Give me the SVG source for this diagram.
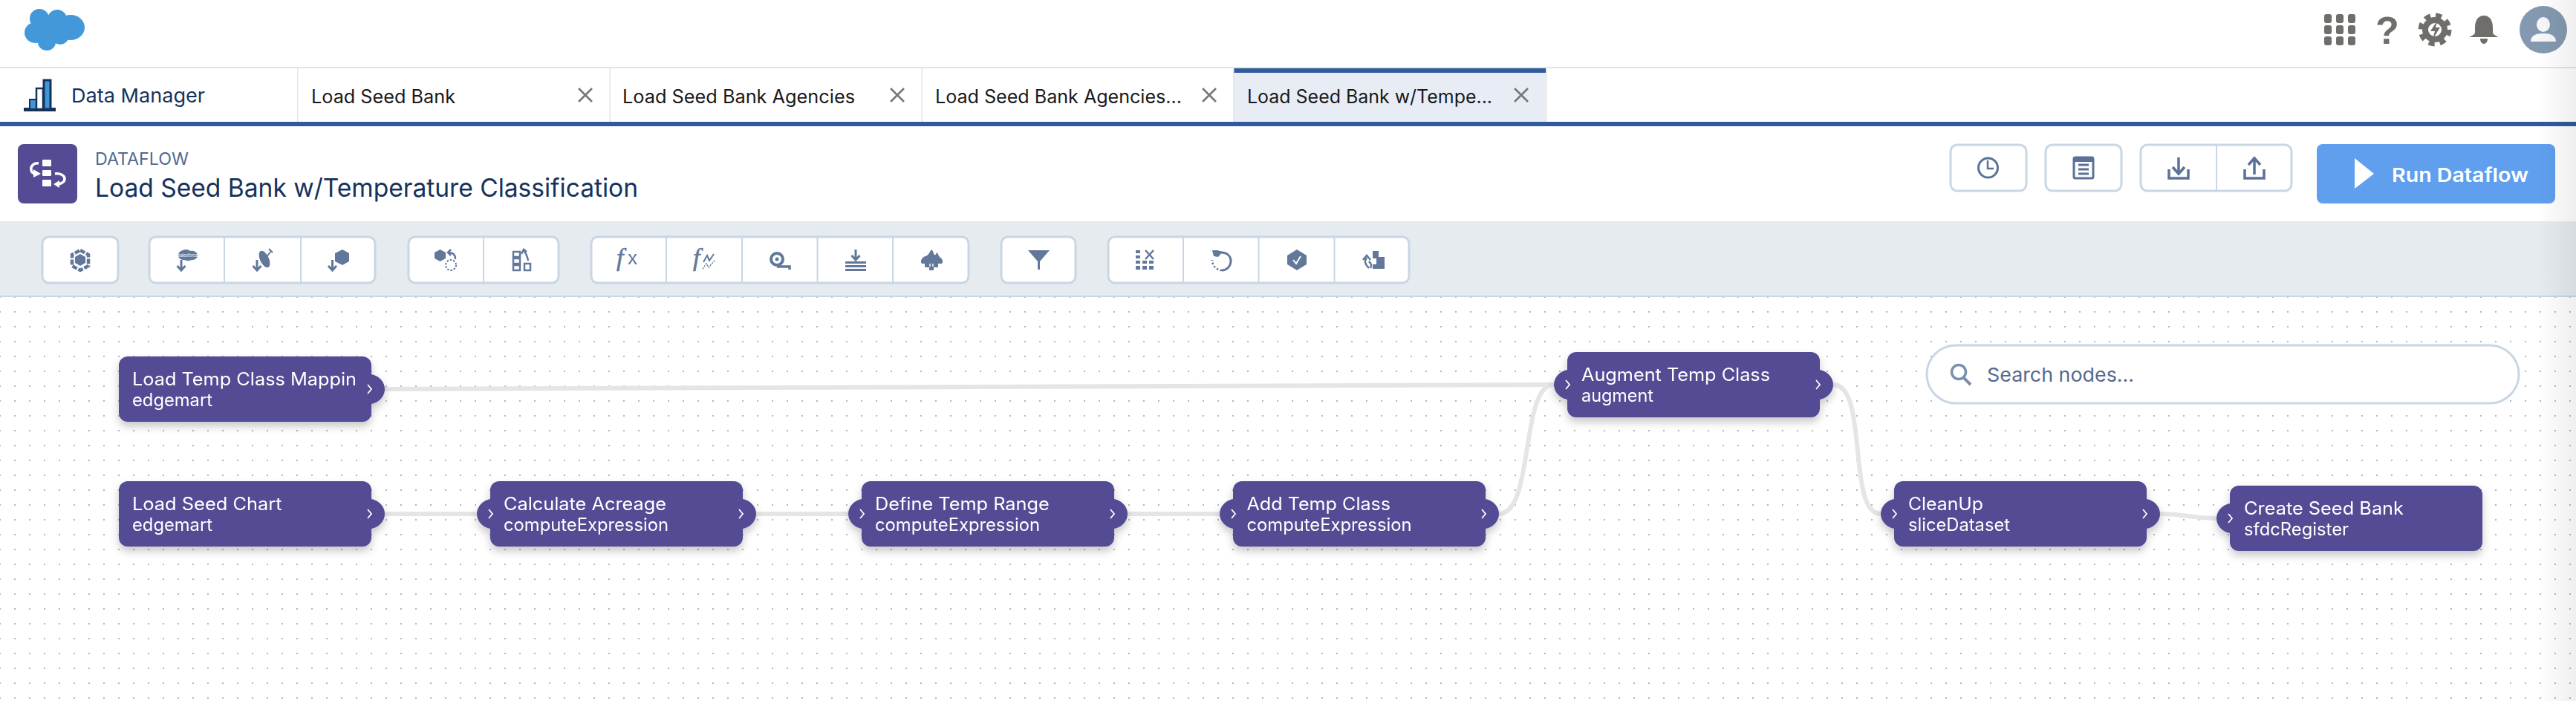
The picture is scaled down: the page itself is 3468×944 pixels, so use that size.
<svg xmlns="http://www.w3.org/2000/svg" width="3468" height="944" viewBox="0 0 3468 944">
<style>
text{font-family:"Inter","Liberation Sans",sans-serif}
.n1,.n2{fill:#fff}
.n1{font-size:24px}
.n2{font-size:24px}
.body{fill:#534b93}
.chev{fill:none;stroke:#fff;stroke-width:1.800}
.conn{fill:none;stroke:#e5e5e5;stroke-width:6}
.tab{font-size:25px;fill:#1a1a1a}
.x{stroke:#777;stroke-width:2.6;fill:none}
.btn{fill:#fff;stroke:#c9d6e4;stroke-width:3}
.div{stroke:#c9d6e4;stroke-width:2}
.ic{fill:#62789a;stroke:none}
.il{fill:none;stroke:#62789a;stroke-width:3}
.id{fill:none;stroke:#62789a;stroke-width:2;stroke-dasharray:2.5 2}
.top{fill:#706e6b}
</style>
<defs>
<pattern id="dots" x="-1" y="-1" width="20" height="20" patternUnits="userSpaceOnUse"><rect x="0" y="0" width="2" height="2" fill="#b5b5b5"/></pattern>
<linearGradient id="edge" x1="0" x2="1" y1="0" y2="0"><stop offset="0" stop-color="#000" stop-opacity="0"/><stop offset="1" stop-color="#000" stop-opacity=".065"/></linearGradient>
<filter id="sh" x="-10%" y="-30%" width="120%" height="170%"><feDropShadow dx="0" dy="6" stdDeviation="6" flood-color="#000" flood-opacity=".22"/></filter>
<g id="shape-lr">
<path class="body" d="M0 24C-10 26 -18 34 -18 44C-18 54 -10 62 0 64Z"/>
<rect class="body" x="0" y="0" width="340" height="88" rx="12"/>
<path class="body" d="M340 24C350 26 358 34 358 44C358 54 350 62 340 64Z"/>
<path class="chev" d="M-2 38L3 44L-2 50"/><path class="chev" d="M335 38L340 44L335 50"/>
</g>
<g id="shape-r">
<rect class="body" x="0" y="0" width="340" height="88" rx="12"/>
<path class="body" d="M340 24C350 26 358 34 358 44C358 54 350 62 340 64Z"/>
<path class="chev" d="M335 38L340 44L335 50"/>
</g>
<g id="shape-l">
<path class="body" d="M0 24C-10 26 -18 34 -18 44C-18 54 -10 62 0 64Z"/>
<rect class="body" x="0" y="0" width="340" height="88" rx="12"/>
<path class="chev" d="M-2 38L3 44L-2 50"/>
</g>
<path id="arrow" d="M0 0V13M-5.500 8L0 14L5.500 8" fill="none" stroke="#62789a" stroke-width="3"/>
<path id="closex" class="x" d="M-9 -9L9 9M9 -9L-9 9"/>
</defs>

<rect id="page" width="3468" height="944" fill="#fff"/>
<rect id="canvas-dots" x="0" y="400" width="3468" height="544" fill="url(#dots)"/>

<g id="global-header">
<g id="salesforce-logo" fill="#4398d9">
<circle cx="53" cy="25" r="13"/><circle cx="77" cy="26" r="13"/><ellipse cx="95" cy="37" rx="19" ry="17"/><ellipse cx="48" cy="44" rx="15" ry="14"/><ellipse cx="63" cy="57" rx="12" ry="11"/><ellipse cx="81" cy="50" rx="11" ry="10"/><circle cx="70" cy="40" r="18"/>
</g>
<g id="apps" class="top">
<rect x="3129" y="19" width="10" height="12" rx="3"/><rect x="3145" y="19" width="10" height="12" rx="3"/><rect x="3161" y="19" width="10" height="12" rx="3"/>
<rect x="3129" y="34" width="10" height="12" rx="3"/><rect x="3145" y="34" width="10" height="12" rx="3"/><rect x="3161" y="34" width="10" height="12" rx="3"/>
<rect x="3129" y="49" width="10" height="12" rx="3"/><rect x="3145" y="49" width="10" height="12" rx="3"/><rect x="3161" y="49" width="10" height="12" rx="3"/>
</g>
<text id="help" x="3214" y="59" text-anchor="middle" style="font-family:'Liberation Sans',sans-serif;font-size:52px;font-weight:700" class="top">?</text>
<g id="gear">
<circle cx="3278" cy="40" r="13" fill="none" stroke="#706e6b" stroke-width="8"/>
<circle cx="3278" cy="40" r="19" fill="none" stroke="#706e6b" stroke-width="7" stroke-dasharray="8 7"/>
<path class="top" d="M3281 28L3272 42H3278L3275 53L3285 37H3279Z"/>
</g>
<g id="bell" class="top">
<path d="M3344 21C3353 21 3356 29 3356 37V44C3356 47 3363 49 3363 50H3325C3325 49 3332 47 3332 44V37C3332 29 3335 21 3344 21Z"/>
<path d="M3339 52H3349C3349 56 3347 59 3344 59C3341 59 3339 56 3339 52Z"/>
</g>
<g id="avatar">
<circle cx="3424" cy="40" r="32" fill="#8499b0"/>
<ellipse cx="3424" cy="33" rx="9" ry="10" fill="#fff" opacity=".92"/>
<path d="M3407 56C3407 48 3414 45 3424 45C3434 45 3441 48 3441 56Z" fill="#fff" opacity=".92"/>
</g>
</g>

<g id="tab-bar">
<rect x="0" y="90" width="3468" height="2" fill="#e5e5e5"/>
<rect x="1660" y="92" width="422" height="72" fill="#e8edf5"/>
<rect x="1660" y="92" width="422" height="6" fill="#2f5a9b"/>
<rect x="400" y="92" width="1.500" height="72" fill="#e5e5e5"/><rect x="820.500" y="92" width="1.500" height="72" fill="#e5e5e5"/><rect x="1240.500" y="92" width="1.500" height="72" fill="#e5e5e5"/><rect x="1660" y="92" width="1.500" height="72" fill="#e5e5e5"/><rect x="2081" y="92" width="1.500" height="72" fill="#e5e5e5"/>
<rect x="0" y="164" width="3468" height="6" fill="#2f5a9b"/>
<g id="bar-icon">
<rect x="32" y="145" width="43" height="5" fill="#16325c"/>
<rect x="40" y="134" width="9" height="13" fill="#3f97d8" stroke="#16325c" stroke-width="2"/>
<rect x="49" y="119" width="9" height="28" fill="#fff" stroke="#16325c" stroke-width="2.500"/>
<rect x="59" y="108" width="9" height="39" fill="#3f97d8" stroke="#16325c" stroke-width="3"/>
</g>
<text x="96" y="138" textLength="180" lengthAdjust="spacingAndGlyphs" style="font-size:26px;fill:#16325c">Data Manager</text>
<text class="tab" x="419" y="139" textLength="194" lengthAdjust="spacingAndGlyphs">Load Seed Bank</text>
<use href="#closex" x="788" y="128"/>
<text class="tab" x="838" y="139" textLength="313" lengthAdjust="spacingAndGlyphs">Load Seed Bank Agencies</text>
<use href="#closex" x="1208" y="128"/>
<text class="tab" x="1259" y="139" textLength="332" lengthAdjust="spacingAndGlyphs">Load Seed Bank Agencies...</text>
<use href="#closex" x="1628" y="128"/>
<text class="tab" x="1679" y="139" textLength="330" lengthAdjust="spacingAndGlyphs">Load Seed Bank w/Tempe...</text>
<use href="#closex" x="2048" y="128"/>
</g>

<g id="page-header">
<rect x="24" y="194" width="80" height="80" rx="8" fill="#534b93"/>
<g id="dataflow-icon">
<rect x="57" y="215" width="12" height="9" rx="1" fill="#fff"/><rect x="57" y="229" width="12" height="8" rx="1" fill="#fff"/><rect x="57" y="242" width="12" height="9" rx="1" fill="#fff"/>
<path d="M52 220C45 219 41 224 42 229C42 231 44 233 47 234" fill="none" stroke="#fff" stroke-width="3.500"/>
<path d="M45 228L55 234L45 239Z" fill="#fff"/>
<path d="M74 234C81 233 87 236 87 241C87 245 83 247 79 248" fill="none" stroke="#fff" stroke-width="3.500"/>
<path d="M80 243L72 248L80 253Z" fill="#fff"/>
</g>
<text x="128" y="222" textLength="126" lengthAdjust="spacingAndGlyphs" style="font-size:23px;fill:#54698d">DATAFLOW</text>
<text x="128" y="265" textLength="731" lengthAdjust="spacingAndGlyphs" style="font-size:34px;fill:#16325c">Load Seed Bank w/Temperature Classification</text>
<rect class="btn" x="2626" y="195" width="102" height="62" rx="9"/>
<circle cx="2676.500" cy="226" r="13" fill="none" stroke="#5a7298" stroke-width="3"/><path d="M2676 216V227H2684" fill="none" stroke="#5a7298" stroke-width="2.500"/>
<rect class="btn" x="2754" y="195" width="102" height="62" rx="9"/>
<rect x="2792" y="212" width="26" height="28" rx="2" fill="none" stroke="#5a7298" stroke-width="3"/><rect x="2792" y="212" width="26" height="6" fill="#5a7298"/>
<path d="M2798 222H2812M2798 228H2812M2798 234H2812" stroke="#5a7298" stroke-width="3"/>
<rect class="btn" x="2882" y="195" width="203" height="62" rx="9"/><path class="div" d="M2984 195V257"/>
<path d="M2933 212V233M2925 225L2933 234L2941 225M2920 228V240H2946V228" fill="none" stroke="#5a7298" stroke-width="3.500"/>
<path d="M3035 235V214M3027 222L3035 213L3043 222M3022 228V240H3048V228" fill="none" stroke="#5a7298" stroke-width="3.500"/>
<rect x="3119" y="194" width="321" height="80" rx="8" fill="#5f9fee"/>
<path d="M3170 213L3196 234L3170 254Z" fill="#fff"/>
<text x="3220" y="245" textLength="184" lengthAdjust="spacingAndGlyphs" style="font-size:26px;font-weight:600;fill:#fff">Run Dataflow</text>
</g>

<g id="toolbar">
<rect x="0" y="298" width="3468" height="100" fill="#e6ebf0"/>
<rect x="0" y="398" width="3468" height="2" fill="#c9d6e4"/>
<rect class="btn" x="57" y="319" width="102" height="62" rx="9"/>
<rect class="btn" x="201" y="319" width="304" height="62" rx="9"/><path class="div" d="M302 319V381M405 319V381"/>
<rect class="btn" x="550" y="319" width="202" height="62" rx="9"/><path class="div" d="M651 319V381"/>
<rect class="btn" x="796" y="319" width="508" height="62" rx="9"/><path class="div" d="M897 319V381M999 319V381M1100.500 319V381M1202 319V381"/>
<rect class="btn" x="1348" y="319" width="100" height="62" rx="9"/>
<rect class="btn" x="1492" y="319" width="405" height="62" rx="9"/><path class="div" d="M1593 319V381M1694.500 319V381M1796.500 319V381"/>
<g id="tool-dataset">
<path class="ic" d="M108 342L115 346V354L108 358L101 354V346Z"/>
<path d="M108 337L119 343V358L108 364L97 358V343Z" fill="none" stroke="#62789a" stroke-width="4.500" stroke-dasharray="7 2"/>
</g>
<g id="tool-sfdc">
<path class="ic" d="M246 337C250 335 254 336 256 338C261 337 266 340 266 344C266 348 262 350 258 350C255 352 250 351 248 350C244 350 240 348 240 344C240 340 243 338 246 337Z"/>
<text x="253" y="345.500" text-anchor="middle" style="font-size:5.500px;fill:#fff">salesforce</text>
<use href="#arrow" x="244" y="350"/>
</g>
<g id="tool-dish">
<ellipse cx="356" cy="349" rx="6" ry="12" transform="rotate(-25 356 349)" class="ic"/>
<path d="M358 347L365 338M362 335L367 340" fill="none" stroke="#62789a" stroke-width="2"/>
<use href="#arrow" x="346" y="350"/>
</g>
<g id="tool-hex">
<path class="ic" d="M461 336L470 341V352L461 357L451 352V341Z"/>
<use href="#arrow" x="447.500" y="350"/>
</g>
<g id="tool-reset">
<path class="ic" d="M592.500 336L600 340V348L592.500 352L585 348V340Z"/>
<path d="M613 349C613 343 610 340 604 340M607 336L603 340L607 344" fill="none" stroke="#62789a" stroke-width="2.500"/>
<circle cx="607" cy="357" r="7" class="id"/>
</g>
<g id="tool-columns">
<rect x="691" y="339" width="9" height="7" fill="none" stroke="#62789a" stroke-width="2.500"/><rect x="691" y="348" width="9" height="7" fill="none" stroke="#62789a" stroke-width="2.500"/><rect x="691" y="357" width="9" height="7" fill="none" stroke="#62789a" stroke-width="2.500"/>
<rect x="706" y="355" width="8" height="9" fill="none" stroke="#62789a" stroke-width="2.500"/>
<path d="M711 351C710 345 708 341 705 337M702 342L705 336L709 339" fill="none" stroke="#62789a" stroke-width="2.500"/>
</g>
<g id="tool-fx">
<text x="830" y="358" style="font-family:'Liberation Serif',serif;font-style:italic;font-size:34px;fill:#62789a;stroke:#62789a;stroke-width:.6">f</text>
<text x="845" y="356" style="font-family:'Liberation Sans',sans-serif;font-size:26px;fill:#62789a">x</text>
</g>
<g id="tool-fw">
<text x="933" y="358" style="font-family:'Liberation Serif',serif;font-style:italic;font-size:34px;fill:#62789a;stroke:#62789a;stroke-width:.6">f</text>
<path d="M947 353L952 344L955 351L961 342" fill="none" stroke="#62789a" stroke-width="2"/>
<path d="M946 362L951 355L954 360L962 351" fill="none" stroke="#62789a" stroke-width="1.500" stroke-dasharray="2 1.500"/>
</g>
<g id="tool-seal">
<circle cx="1046" cy="349" r="8" fill="none" stroke="#62789a" stroke-width="4"/><circle cx="1046" cy="349" r="2.500" class="ic"/>
<path d="M1046 359H1063V363" fill="none" stroke="#62789a" stroke-width="3.500"/>
</g>
<g id="tool-append">
<use href="#arrow" x="1152" y="336"/>
<rect class="ic" x="1138" y="352" width="28" height="3"/><rect class="ic" x="1138" y="357" width="28" height="3"/><rect class="ic" x="1138" y="362" width="28" height="3"/>
</g>
<g id="tool-flatten">
<path class="ic" d="M1254 336C1257 338 1256 341 1258 343C1261 344 1260 340 1262 340C1263 343 1264 345 1266 347C1269 349 1270 352 1268 355L1263 355V360H1257V364H1251V360H1245V355L1241 355C1238 351 1242 346 1246 345C1250 344 1251 340 1254 336Z"/>
<path d="M1252 355V359M1256 355V359" stroke="#fff" stroke-width="1.500"/>
</g>
<g id="tool-filter">
<path class="ic" d="M1384 337H1413L1400 352V363H1397V352Z"/>
</g>
<g id="tool-slice">
<path class="ic" d="M1529 337H1535V341H1529ZM1529 344H1535V348H1529ZM1529 351H1535V355H1529ZM1529 358H1535V363H1529ZM1538 351H1544V355H1538ZM1538 358H1544V363H1538ZM1547 351H1553V355H1547ZM1547 358H1553V363H1547Z"/>
<path d="M1542 337L1553 349M1553 337L1542 349" stroke="#62789a" stroke-width="2.500"/>
</g>
<g id="tool-undo">
<path d="M1644 340C1652 340 1657 345 1657 351C1657 359 1651 364 1645 364" fill="none" stroke="#62789a" stroke-width="3"/>
<path d="M1645 364C1638 364 1632 358 1632 350" fill="none" stroke="#62789a" stroke-width="2.500" stroke-dasharray="2.500 2.500"/>
<path class="ic" d="M1632 337L1639 337L1646 339L1640 346L1634 345Z"/>
</g>
<g id="tool-validate">
<path class="ic" d="M1746 336L1759 344V356L1746 364L1733 356V344Z"/>
<path d="M1741 350L1745 355L1751 345" fill="none" stroke="#fff" stroke-width="2"/>
</g>
<g id="tool-export">
<path class="ic" d="M1848 338H1856V346H1864V362H1848V356H1853V348H1848Z"/>
<path d="M1840 347C1836 352 1838 356 1843 361M1835 350L1840 344L1845 350M1843 352C1846 355 1847 357 1845 361" fill="none" stroke="#62789a" stroke-width="2.500"/>
</g>
</g>

<g id="connectors">
<path class="conn" d="M518 524C1305 524 1305 518 2092 518"/>
<path class="conn" d="M518 692H642"/>
<path class="conn" d="M1018 692H1142"/>
<path class="conn" d="M1518 692H1642"/>
<path class="conn" d="M2018 692C2066 692 2046 518 2092 518"/>
<path class="conn" d="M2468 518C2516 518 2486 692 2532 692"/>
<path class="conn" d="M2908 692C2946 692 2946 698 2984 698"/>
</g>

<g id="node-load-temp-class" filter="url(#sh)">
<use href="#shape-r" transform="translate(160,480)"/>
<text class="n1" x="178" y="519" textLength="302" lengthAdjust="spacingAndGlyphs">Load Temp Class Mappin</text>
<text class="n2" x="178" y="547" textLength="108" lengthAdjust="spacingAndGlyphs">edgemart</text>
</g>
<g id="node-load-seed-chart" filter="url(#sh)">
<use href="#shape-r" transform="translate(160,648)"/>
<text class="n1" x="178" y="687" textLength="201.500" lengthAdjust="spacingAndGlyphs">Load Seed Chart</text>
<text class="n2" x="178" y="715" textLength="108" lengthAdjust="spacingAndGlyphs">edgemart</text>
</g>
<g id="node-calculate-acreage" filter="url(#sh)">
<use href="#shape-lr" transform="translate(660,648)"/>
<text class="n1" x="678" y="687" textLength="219" lengthAdjust="spacingAndGlyphs">Calculate Acreage</text>
<text class="n2" x="678" y="715" textLength="222" lengthAdjust="spacingAndGlyphs">computeExpression</text>
</g>
<g id="node-define-temp-range" filter="url(#sh)">
<use href="#shape-lr" transform="translate(1160,648)"/>
<text class="n1" x="1178" y="687" textLength="234.700" lengthAdjust="spacingAndGlyphs">Define Temp Range</text>
<text class="n2" x="1178" y="715" textLength="222" lengthAdjust="spacingAndGlyphs">computeExpression</text>
</g>
<g id="node-add-temp-class" filter="url(#sh)">
<use href="#shape-lr" transform="translate(1660,648)"/>
<text class="n1" x="1678.500" y="687" textLength="193.600" lengthAdjust="spacingAndGlyphs">Add Temp Class</text>
<text class="n2" x="1678.500" y="715" textLength="222" lengthAdjust="spacingAndGlyphs">computeExpression</text>
</g>
<g id="node-augment-temp-class" filter="url(#sh)">
<use href="#shape-lr" transform="translate(2110,474)"/>
<text class="n1" x="2129" y="513" textLength="254" lengthAdjust="spacingAndGlyphs">Augment Temp Class</text>
<text class="n2" x="2129" y="541" textLength="97" lengthAdjust="spacingAndGlyphs">augment</text>
</g>
<g id="node-cleanup" filter="url(#sh)">
<use href="#shape-lr" transform="translate(2550,648)"/>
<text class="n1" x="2569" y="687" textLength="101" lengthAdjust="spacingAndGlyphs">CleanUp</text>
<text class="n2" x="2569" y="715" textLength="137" lengthAdjust="spacingAndGlyphs">sliceDataset</text>
</g>
<g id="node-create-seed-bank" filter="url(#sh)">
<use href="#shape-l" transform="translate(3002,654)"/>
<text class="n1" x="3021" y="693" textLength="215" lengthAdjust="spacingAndGlyphs">Create Seed Bank</text>
<text class="n2" x="3021" y="721" textLength="141" lengthAdjust="spacingAndGlyphs">sfdcRegister</text>
</g>

<g id="search">
<rect x="2594" y="465" width="797" height="78" rx="39" fill="#fff" stroke="#c9d6e4" stroke-width="3"/>
<circle cx="2637" cy="501" r="9.500" fill="none" stroke="#7a90ad" stroke-width="3.500"/><path d="M2644 509L2653 518" stroke="#7a90ad" stroke-width="4"/>
<text x="2675" y="514" textLength="198" lengthAdjust="spacingAndGlyphs" style="font-size:26px;fill:#54698d">Search nodes...</text>
</g>
<rect id="right-edge" x="3415" y="0" width="53" height="944" fill="url(#edge)"/>
</svg>
